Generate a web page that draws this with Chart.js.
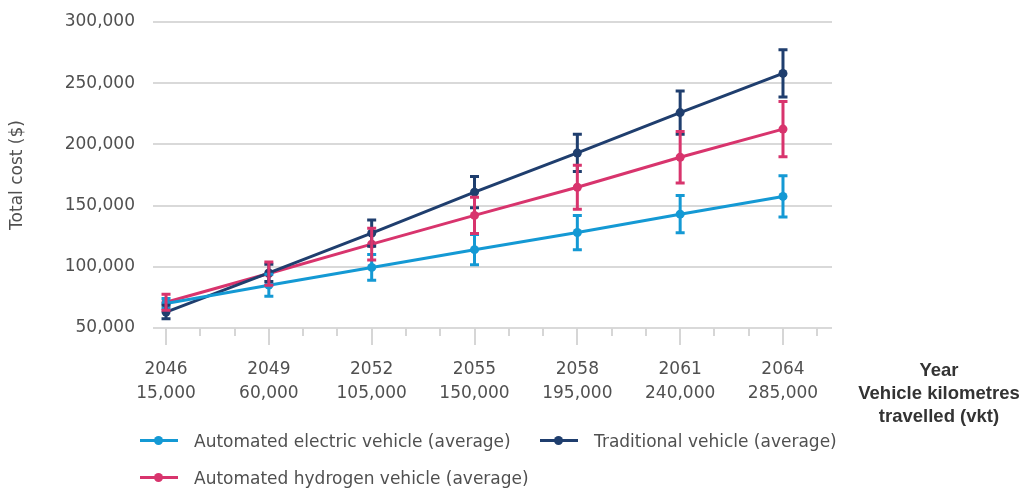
<!DOCTYPE html>
<html>
<head>
<meta charset="utf-8">
<script src="https://cdn.jsdelivr.net/npm/chart.js@4.4.1/dist/chart.umd.min.js"></script>
<style>
  body { margin: 0; background: #fff; }
  #wrap { position: relative; width: 1023px; height: 488px; overflow: hidden; font-family: "DejaVu Sans", sans-serif; color: #505050; }
  #costChart { position: absolute; left: 0; top: 0; }
  #xTitle { position: absolute; left: 839px; width: 200px; top: 358px; text-align: center; font-family: "Liberation Sans", Arial, sans-serif; font-weight: bold; font-size: 18.5px; line-height: 23px; color: #333; }
  #legend { position: absolute; left: 140px; top: 422px; width: 760px; display: flex; flex-wrap: wrap; }
  .item { display: flex; align-items: center; height: 37px; font-size: 17px; color: #505050; }
  .item.wide { width: 400px; }
  .swatch { position: relative; width: 38px; height: 3px; margin-right: 16px; }
  .swatch span { position: absolute; left: 14px; top: -3px; width: 9px; height: 9px; border-radius: 50%; }
</style>
</head>
<body>
<div id="wrap">
  <canvas id="costChart" width="1023" height="488"></canvas>
  <div id="xTitle">Year<br>Vehicle kilometres<br>travelled (vkt)</div>
  <div id="legend"></div>
</div>
<script>
const years = [2046, 2049, 2052, 2055, 2058, 2061, 2064];
const vktLabels = ["15,000", "60,000", "105,000", "150,000", "195,000", "240,000", "285,000"];

const electricCost = [70000, 85000, 99500, 114000, 128000, 143000, 157500];
const electricErr = [4000, 9000, 10500, 12300, 14000, 15200, 16800];

const traditionalCost = [63000, 95000, 127500, 161000, 193000, 226000, 258000];
const traditionalErr = [5500, 7000, 10700, 12700, 15200, 17700, 19300];

const hydrogenCost = [71000, 94500, 118500, 142000, 165000, 189500, 212500];
const hydrogenErr = [6600, 9500, 13000, 14800, 18000, 21000, 22600];

const yTicks = [50000, 100000, 150000, 200000, 250000, 300000];

const colors = {
    electric: "#1499d4",
    traditional: "#1f3e6e",
    hydrogen: "#d8346d",
};

const textColor = "#505050";
const fontFamily = "DejaVu Sans";

function toPoints(values) {
    return values.map((v, i) => ({ x: years[i], y: v }));
}

// error bars, drawn from the errors stored on each dataset
const errorBars = {
    id: "errorBars",
    afterDatasetsDraw(chart) {
        const ctx = chart.ctx;
        const yScale = chart.scales.y;
        const xScale = chart.scales.x;
        chart.data.datasets.forEach((ds) => {
            ctx.save();
            ctx.strokeStyle = ds.borderColor;
            ctx.lineWidth = 3;
            ds.data.forEach((p, i) => {
                const x = xScale.getPixelForValue(p.x);
                const top = yScale.getPixelForValue(p.y + ds.errors[i]);
                const bottom = yScale.getPixelForValue(p.y - ds.errors[i]);
                ctx.beginPath();
                ctx.moveTo(x, top);
                ctx.lineTo(x, bottom);
                ctx.moveTo(x - 4.5, top);
                ctx.lineTo(x + 4.5, top);
                ctx.moveTo(x - 4.5, bottom);
                ctx.lineTo(x + 4.5, bottom);
                ctx.stroke();
            });
            ctx.restore();
        });
    },
};

// tick marks under the x axis: long on labelled years, short on the others
const yearTicks = {
    id: "yearTicks",
    afterDraw(chart) {
        const ctx = chart.ctx;
        const xScale = chart.scales.x;
        const base = chart.chartArea.bottom;
        ctx.save();
        ctx.strokeStyle = "#d6d6d6";
        ctx.lineWidth = 2;
        for (let yr = Math.ceil(xScale.min); yr <= Math.floor(xScale.max); yr++) {
            const x = Math.round(xScale.getPixelForValue(yr));
            const len = years.includes(yr) ? 17 : 8;
            ctx.beginPath();
            ctx.moveTo(x, base);
            ctx.lineTo(x, base + len);
            ctx.stroke();
        }
        ctx.restore();
    },
};

const ctx = document.getElementById("costChart").getContext("2d");
const chart = new Chart(ctx, {
    type: "line",
    data: {
        datasets: [
            {
                label: "Automated electric vehicle (average)",
                data: toPoints(electricCost),
                errors: electricErr,
                borderColor: colors.electric,
                backgroundColor: colors.electric,
            },
            {
                label: "Traditional vehicle (average)",
                data: toPoints(traditionalCost),
                errors: traditionalErr,
                borderColor: colors.traditional,
                backgroundColor: colors.traditional,
            },
            {
                label: "Automated hydrogen vehicle (average)",
                data: toPoints(hydrogenCost),
                errors: hydrogenErr,
                borderColor: colors.hydrogen,
                backgroundColor: colors.hydrogen,
            },
        ],
    },
    options: {
        responsive: false,
        animation: false,
        layout: { padding: { top: 22, right: 191, left: 0, bottom: 0 } },
        elements: {
            line: { borderWidth: 3, tension: 0 },
            point: { radius: 4.5, hoverRadius: 4.5, borderWidth: 0 },
        },
        plugins: {
            legend: { display: false },
            tooltip: { enabled: false },
        },
        scales: {
            x: {
                type: "linear",
                min: 2045.62,
                max: 2065.43,
                afterBuildTicks: (scale) => {
                    scale.ticks = years.map((v) => ({ value: v }));
                },
                afterFit: (scale) => { scale.height = 160; },
                grid: { display: false, drawTicks: false },
                border: { display: false },
                ticks: {
                    padding: 30,
                    autoSkip: false,
                    maxRotation: 0,
                    color: textColor,
                    font: { family: fontFamily, size: 17, lineHeight: 1.41 },
                    callback: (value) => {
                        const i = years.indexOf(value);
                        return i >= 0 ? [String(years[i]), vktLabels[i]] : "";
                    },
                },
            },
            y: {
                min: 50000,
                max: 300000,
                afterBuildTicks: (scale) => {
                    scale.ticks = yTicks.map((v) => ({ value: v }));
                },
                afterFit: (scale) => {
                    scale.width = 153;
                    scale.paddingTop = 0;
                    scale.paddingBottom = 0;
                },
                grid: { color: "#d9d9d9", lineWidth: 2, drawTicks: false },
                border: { display: false },
                ticks: {
                    padding: 18,
                    color: textColor,
                    font: { family: fontFamily, size: 17, lineHeight: 0.6 },
                    callback: (value) => value.toLocaleString("en-US"),
                },
                title: {
                    display: true,
                    text: "Total cost ($)",
                    color: textColor,
                    font: { family: fontFamily, size: 17 },
                    padding: { top: 7, bottom: 0 },
                },
            },
        },
    },
    plugins: [errorBars, yearTicks],
});

// legend in the same order as the datasets
const legendBox = document.getElementById("legend");
chart.data.datasets.forEach((ds, i) => {
    const item = document.createElement("div");
    item.className = "item" + (i === 0 ? " wide" : "");
    item.innerHTML = `<div class="swatch" style="background:${ds.borderColor}"><span style="background:${ds.borderColor}"></span></div>${ds.label}`;
    legendBox.appendChild(item);
});
</script>
</body>
</html>
